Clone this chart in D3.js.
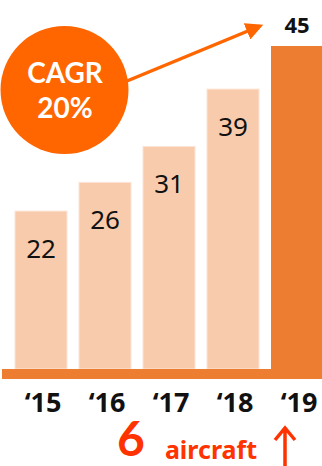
<!DOCTYPE html>
<html>
<head>
<meta charset="utf-8">
<script src="https://cdn.jsdelivr.net/npm/d3@7"></script>
<style>
html,body{margin:0;padding:0;background:#fff;}
svg{display:block;}
</style>
</head>
<body>
<script>
const categories = ["‘15", "‘16", "‘17", "‘18", "‘19"];
const values = [22, 26, 31, 39, 45];
const highlight = [false, false, false, false, true];
const cagrLines = ["CAGR", "20%"];
const footNumber = "6";
const footWord = "aircraft";

const W = 322, H = 466;
const svg = d3.select("body").append("svg").attr("width", W).attr("height", H);

const x = d3.scaleBand().domain(categories).range([9, 329])
  .paddingInner(0.1875).paddingOuter(0.09375);
const y = d3.scaleLinear().domain([0, 45]).range([369, 46]);

const font = "'Noto Sans', 'Open Sans', sans-serif";
const tight = "Lato, 'Noto Sans', sans-serif";

// bars
svg.selectAll("rect.bar").data(values).enter().append("rect")
  .attr("class", "bar")
  .attr("x", (d, i) => x(categories[i]))
  .attr("y", d => y(d))
  .attr("width", x.bandwidth())
  .attr("height", d => y(0) - y(d))
  .attr("fill", (d, i) => highlight[i] ? "#ED7D31" : "#F8CBAD")
  .attr("stroke", (d, i) => highlight[i] ? "none" : "#FCE4D6")
  .attr("stroke-width", 1);

// baseline band
svg.append("rect").attr("x", 2).attr("y", y(0)).attr("width", W - 2).attr("height", 10)
  .attr("fill", "#ED7D31");

// value labels
svg.selectAll("text.val").data(values).enter().append("text")
  .attr("class", "val")
  .attr("x", (d, i) => x(categories[i]) + x.bandwidth() / 2)
  .attr("y", (d, i) => highlight[i] ? y(d) - 13 : y(d) + 47)
  .attr("text-anchor", "middle")
  .attr("font-family", font)
  .attr("font-size", (d, i) => highlight[i] ? 22 : 26)
  .attr("font-weight", (d, i) => highlight[i] ? 700 : 400)
  .attr("fill", "#111")
  .text(d => d);

// x labels
svg.selectAll("text.cat").data(categories).enter().append("text")
  .attr("class", "cat")
  .attr("x", d => x(d) + x.bandwidth() / 2 + 2)
  .attr("y", 412)
  .attr("text-anchor", "middle")
  .attr("font-family", font)
  .attr("font-size", 27)
  .attr("font-weight", 700)
  .attr("fill", "#111")
  .text(d => d);

// CAGR circle
svg.append("circle").attr("cx", 64.5).attr("cy", 90).attr("r", 64).attr("fill", "#FF6600");
svg.selectAll("text.cagr").data(cagrLines).enter().append("text")
  .attr("class", "cagr")
  .attr("x", 65)
  .attr("y", (d, i) => 83 + i * 35)
  .attr("text-anchor", "middle")
  .attr("font-family", tight)
  .attr("font-size", 28)
  .attr("font-weight", 700)
  .attr("fill", "#fff")
  .text(d => d);

// arrow from circle
const defs = svg.append("defs");
defs.append("marker").attr("id", "ah").attr("viewBox", "0 0 10 10")
  .attr("refX", 8).attr("refY", 5).attr("markerWidth", 5).attr("markerHeight", 5)
  .attr("markerUnits", "strokeWidth").attr("orient", "auto")
  .append("path").attr("d", "M0,0 L10,5 L0,10 Z").attr("fill", "#FF6600");
svg.append("line").attr("x1", 127).attr("y1", 81).attr("x2", 260).attr("y2", 26)
  .attr("stroke", "#FF6600").attr("stroke-width", 3.5).attr("marker-end", "url(#ah)");

// footer
svg.append("text").attr("x", 131).attr("y", 456).attr("text-anchor", "middle")
  .attr("font-family", tight).attr("font-size", 48).attr("font-weight", 700)
  .attr("fill", "#FF3300").text(footNumber);
svg.append("text").attr("x", 211).attr("y", 459).attr("text-anchor", "middle")
  .attr("font-family", font).attr("font-size", 25).attr("font-weight", 700)
  .attr("fill", "#FF3300").text(footWord);
// up arrow
svg.append("path").attr("d", "M285,429 L285,466 M275,440 L285,428 L295,440")
  .attr("fill", "none").attr("stroke", "#FF3300").attr("stroke-width", 3.5)
  .attr("stroke-linejoin", "miter");
</script>
</body>
</html>
